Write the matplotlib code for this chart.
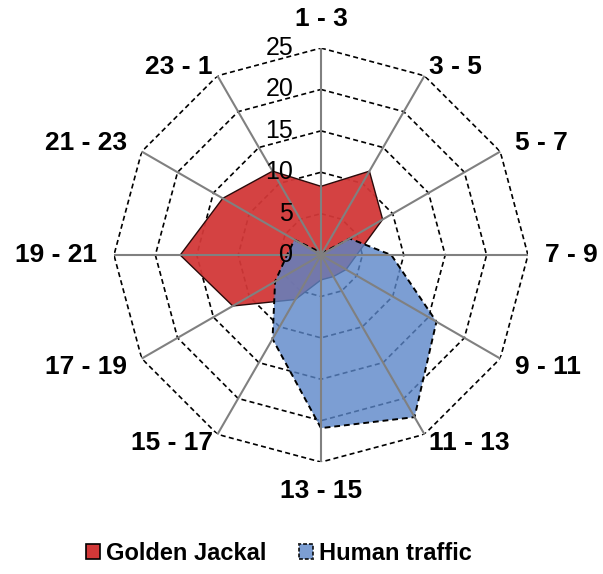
import numpy as np
import matplotlib
matplotlib.use("Agg")
import matplotlib.pyplot as plt
from matplotlib.patches import Patch

OUTFILE = "out.png"

CATEGORIES = ['1 - 3', '3 - 5', '5 - 7', '7 - 9', '9 - 11', '11 - 13',
              '13 - 15', '15 - 17', '17 - 19', '19 - 21', '21 - 23', '23 - 1']
JACKAL = [8.3, 11.7, 8.6, 4.3, 3.5, 3.0, 3.0, 6.2, 12.3, 17.0, 13.7, 11.7]
HUMAN = [0.2, 0.3, 4.0, 8.5, 16.1, 22.6, 20.9, 11.7, 6.4, 4.1, 3.7, 0.5]
RTICKS = [0, 5, 10, 15, 20, 25]
SERIES_NAMES = ['Golden Jackal', 'Human traffic']

RED = '#D23838'
BLUE = '#5B86C8'

plt.rcParams['font.family'] = ['Liberation Sans', 'DejaVu Sans']

fig = plt.figure(figsize=(6.03, 5.74), dpi=100)
ax = fig.add_axes([0.189, 0.195, 0.6866, 0.7213], projection='polar')
ax.set_theta_zero_location('N')
ax.set_theta_direction(-1)
ax.set_ylim(0, 25)
ax.grid(False)
ax.set_xticks([])
ax.set_yticks([])
ax.spines['polar'].set_visible(False)
ax.patch.set_visible(False)

n = len(CATEGORIES)
theta = np.arange(n) * 2 * np.pi / n
theta_c = np.append(theta, theta[0])

# polygon rings
for t in RTICKS[1:]:
    ax.plot(theta_c, [t] * (n + 1), color='black', lw=1.2,
            ls=(0, (3, 2)), zorder=1)

def closed(v):
    return np.append(v, v[0])

ax.fill(theta_c, closed(JACKAL), facecolor=RED, alpha=0.95, zorder=2)
ax.plot(theta_c, closed(JACKAL), color='#2a0a0a', lw=1.0, zorder=2.1)
ax.fill(theta_c, closed(HUMAN), facecolor=BLUE, alpha=0.8, zorder=2.2)
ax.plot(theta_c, closed(HUMAN), color='black', lw=1.4,
        ls=(0, (3, 2)), zorder=2.3)

# spokes
for th in theta:
    ax.plot([th, th], [0, 25], color='#808080', lw=1.5, zorder=3)

for t in RTICKS:
    ax.annotate(str(t), xy=(0, t), xytext=(-20, 0), textcoords='offset points',
                ha='right', va='center', fontsize=18, zorder=4)

for th, lab in zip(theta, CATEGORIES):
    s, c = np.sin(th), np.cos(th)
    ha = 'left' if s > 0.1 else ('right' if s < -0.1 else 'center')
    if abs(s) < 0.1:
        va = 'bottom' if c > 0 else 'top'
        r = 27
    else:
        va = 'center'
        r = 26.2 if abs(c) > 0.8 else 27
    ax.text(th, r, lab, ha=ha, va=va, fontsize=19, fontweight='bold')

handles = [Patch(facecolor=RED, edgecolor='black', lw=1.2),
           Patch(facecolor=BLUE, alpha=0.8, edgecolor='black', lw=1.4, ls=(0, (2, 1)))]
fig.legend(handles, SERIES_NAMES, loc='center', bbox_to_anchor=(279 / 603, 1 - 553 / 574),
           ncol=2, frameon=False, handlelength=0.6, handleheight=0.6,
           handletextpad=0.25, columnspacing=1.4,
           prop={'size': 17, 'weight': 'bold'})

fig.savefig(OUTFILE, dpi=100)
